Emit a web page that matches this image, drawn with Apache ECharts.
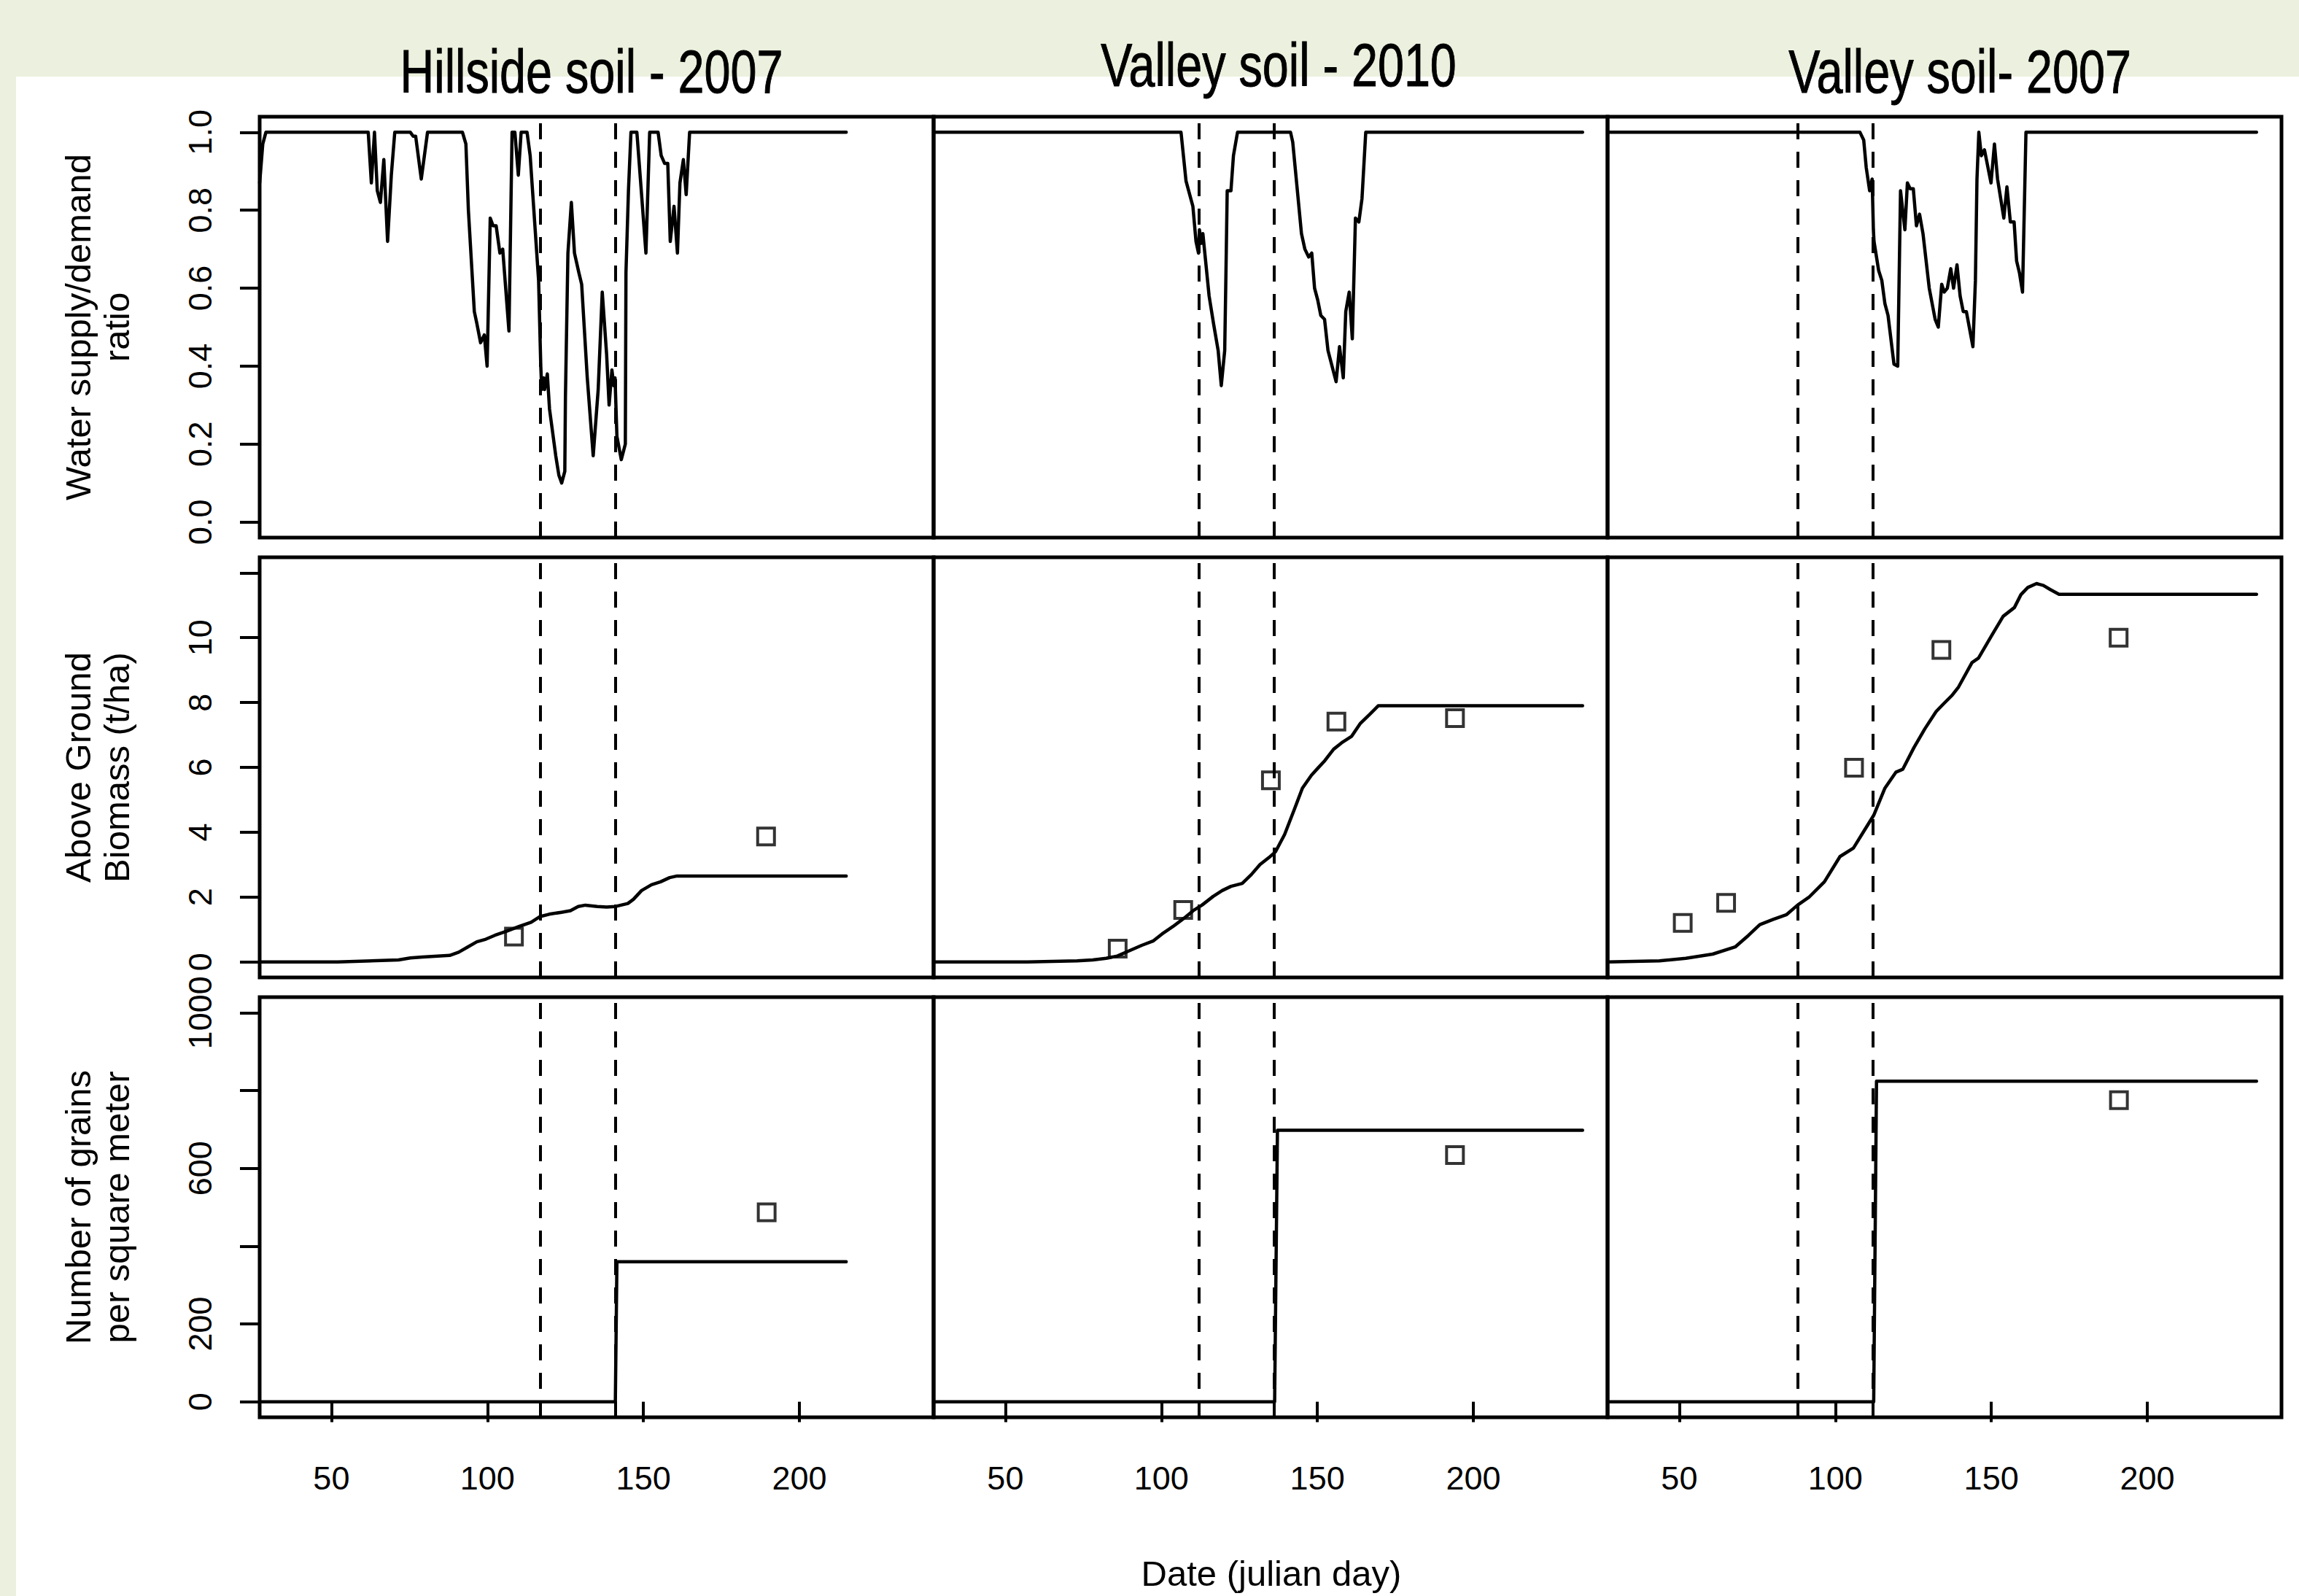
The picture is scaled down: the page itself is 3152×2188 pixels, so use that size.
<!DOCTYPE html>
<html>
<head>
<meta charset="utf-8">
<script src="https://cdn.jsdelivr.net/npm/echarts@6.0.0/dist/echarts.min.js"></script>
<style>
  html, body { margin: 0; padding: 0; background: #EBF1DE; }
  #white { position: absolute; left: 22px; top: 105px; width: 3130px; height: 2083px; background: #ffffff; }
  #c { position: absolute; left: 0; top: 0; width: 3152px; height: 2188px; }
</style>
</head>
<body>
<div id="white"></div>
<div id="c"></div>
<script>
// ---------------- data ----------------
const panelTitles = ['Hillside soil - 2007', 'Valley soil - 2010', 'Valley soil- 2007'];
const rowTitles = ['Water supply/demand\nratio', 'Above Ground\nBiomass (t/ha)', 'Number of grains\nper square meter'];
const xTitle = 'Date (julian day)';

const xTicks = [50, 100, 150, 200];
const waterTicks = [0, 0.2, 0.4, 0.6, 0.8, 1.0];
const biomassTicks = [0, 2, 4, 6, 8, 10, 12];
const biomassLabels = [0, 2, 4, 6, 8, 10];
const grainTicks = [0, 200, 400, 600, 800, 1000];
const grainLabels = [0, 200, 600, 1000];

// vertical dashed lines (julian day)
const hill07Dashes = [117, 141];
const v2010Dashes = [112, 136];
const v2007Dashes = [88, 112];

// water supply / demand ratio
const hill07Water = [[27,0.87],[28,0.97],[29,1],[61.8,1],[62.8,0.87],[63.8,1],[64.7,0.85],[65.7,0.82],[66.8,0.93],[68,0.72],[69.2,0.89],[70.3,1],[75.3,1],[76.2,0.99],[77,0.99],[78.8,0.88],[80.8,1],
  [92,1],[93.1,0.97],[93.9,0.80],[95.8,0.54],[96.6,0.51],[97.8,0.46],[99,0.48],[99.9,0.40],[100.9,0.78],[101.8,0.76],[102.8,0.76],[104,0.69],[104.9,0.70],[106.9,0.49],[107.9,1],[108.8,1],[109.9,0.89],[110.8,1],[112.7,1],[113.7,0.94],[116.4,0.62],[117.1,0.40],[117.4,0.34],[118,0.37],[118.3,0.34],[119.2,0.38],[119.9,0.29],[121.9,0.17],[122.9,0.12],[123.8,0.10],[124.8,0.13],[125,0.32],[125.8,0.69],[126.9,0.82],[127.9,0.69],[129.3,0.64],[130.2,0.61],[132,0.37],[133.9,0.17],[135.5,0.34],[136.8,0.59],[138.2,0.43],[139,0.30],[139.9,0.39],[140.5,0.35],[140.9,0.37],[141.5,0.22],[142.9,0.16],[144.2,0.20],[144.4,0.64],[145.2,0.85],[146,1],[147.9,1],[149.5,0.83],[150.8,0.69],[152,1],[154.7,1],[155.7,0.94],[156.8,0.92],[157.8,0.92],[158.6,0.72],[159.8,0.81],[160.9,0.69],[161.7,0.87],[162.8,0.93],[163.7,0.84],[164.8,1],[215,1]];
const v2010Water = [[27,1],[106.3,1],[107.9,0.875],[110.1,0.81],[111.1,0.72],[111.9,0.69],[112.2,0.75],[112.8,0.715],[113.3,0.74],[115.3,0.58],[116.7,0.51],[118.2,0.44],[119.2,0.35],[120.3,0.44],[120.7,0.64],[121.1,0.85],[122.3,0.85],[123.1,0.94],[124.4,1],[141.4,1],[142.1,0.975],[144.9,0.74],[146,0.70],[147.2,0.68],[148.2,0.69],[149.1,0.60],[150.1,0.57],[151.1,0.53],[152.3,0.52],[153.4,0.44],[156,0.36],[157.1,0.45],[158.3,0.37],[159.1,0.54],[160.2,0.59],[161.2,0.47],[162.2,0.78],[163.3,0.77],[164.3,0.83],[165.5,1],[235,1]];
const v2007Water = [[27,1],[107.9,1],[109.1,0.98],[109.9,0.91],[111,0.85],[111.8,0.88],[112.2,0.75],[112.4,0.72],[113.9,0.645],[114.9,0.62],[115.9,0.56],[116.9,0.53],[118.8,0.405],[120,0.40],[120.9,0.85],[122.3,0.75],[123.1,0.87],[124,0.855],[125,0.855],[126,0.76],[127,0.79],[128.1,0.74],[130.1,0.60],[132,0.52],[133,0.50],[134.1,0.61],[134.9,0.59],[135.9,0.60],[137,0.65],[137.9,0.60],[139,0.66],[140,0.58],[141,0.54],[142,0.54],[144.1,0.45],[144.9,0.62],[145.4,0.88],[146,1],[146.8,0.94],[147.8,0.955],[149.9,0.87],[151,0.97],[152,0.88],[154,0.78],[155,0.86],[156.1,0.77],[157.3,0.77],[158.1,0.67],[159,0.64],[160,0.59],[161.1,1],[235,1]];

// above ground biomass (t/ha): simulated line + observed squares
const hill07Biomass = [[27,0],[52,0],[71.5,0.06],[75.3,0.12],[79.2,0.15],[87.9,0.2],[90.8,0.3],[93.7,0.46],[96.6,0.62],[99.5,0.7],[102.4,0.82],[106.3,0.95],[110.1,1.09],[114,1.22],[116.9,1.4],[119.8,1.47],[123.7,1.53],[126.6,1.58],[129.1,1.71],[131.4,1.75],[135.2,1.71],[138.2,1.69],[141.1,1.71],[145,1.8],[146.8,1.93],[149.4,2.2],[152.6,2.38],[155.5,2.47],[158.4,2.6],[160.8,2.65],[215,2.65]];
const hill07BiomassObs = [[108.5,0.78],[189.3,3.87]];
const v2010Biomass = [[27,0],[57,0],[73,0.03],[78,0.06],[82.3,0.11],[85.9,0.18],[89.4,0.33],[93.7,0.51],[97.3,0.64],[100.2,0.86],[103.7,1.09],[107.3,1.35],[110.2,1.58],[113,1.75],[116.6,2.02],[119.5,2.2],[122.3,2.33],[125.9,2.42],[128.8,2.69],[131.6,3.0],[134.5,3.22],[136.6,3.4],[139.5,3.93],[142.4,4.65],[145.2,5.36],[148.1,5.76],[150.2,5.98],[152.4,6.21],[155.2,6.56],[158.1,6.78],[161,6.96],[163.8,7.36],[166.7,7.63],[169.5,7.9],[235,7.9]];
const v2010BiomassObs = [[86,0.41],[107,1.6],[135.1,5.6],[156.1,7.41],[194.1,7.52]];
const v2007Biomass = [[27,0],[43.6,0.03],[52.1,0.11],[60.7,0.24],[67.9,0.46],[72.2,0.82],[75.8,1.15],[80.1,1.31],[84.4,1.46],[87.9,1.75],[91.5,1.99],[96.5,2.47],[101.5,3.25],[105.8,3.51],[109.4,4.07],[112.3,4.52],[115.9,5.36],[119.4,5.85],[121.6,5.94],[125.2,6.61],[128.7,7.19],[132.3,7.72],[134.5,7.94],[137.3,8.21],[139.5,8.48],[143.8,9.23],[145.9,9.37],[150.2,10.08],[153.8,10.66],[157.4,10.93],[159.5,11.33],[161.7,11.55],[164.5,11.67],[166.7,11.61],[168.8,11.49],[171.7,11.34],[235,11.34]];
const v2007BiomassObs = [[51.1,1.2],[65,1.82],[106,5.99],[134,9.62],[190.8,10.0]];

// number of grains per square meter
const hill07Grains = [[27,0],[141,0],[141.5,360],[215,360]];
const hill07GrainsObs = [[189.5,487]];
const v2010Grains = [[27,0],[136.3,0],[137.2,698],[235,698]];
const v2010GrainsObs = [[194.1,634]];
const v2007Grains = [[27,0],[112.3,0],[113.2,824],[235,824]];
const v2007GrainsObs = [[190.9,775]];

// ---------------- layout ----------------
const colLeft = [356, 1280, 2204];
const colWidth = 924;
const rowTop = [160, 764, 1367];
const rowHeight = [577, 576, 576];
const yMin = [-0.04, -0.48, -40];
const yMax = [1.04, 12.48, 1040];
const yTicks = [waterTicks, biomassTicks, grainTicks];
const yLabels = [waterTicks, biomassLabels, grainLabels];
const yFmt = [v => v.toFixed(1), v => String(v), v => String(v)];
const titleCenterX = [811, 1753, 2687];
const titleCenterY = [98, 89, 98];

const lines = [
  [hill07Water, v2010Water, v2007Water],
  [hill07Biomass, v2010Biomass, v2007Biomass],
  [hill07Grains, v2010Grains, v2007Grains]
];
const obs = [
  [null, null, null],
  [hill07BiomassObs, v2010BiomassObs, v2007BiomassObs],
  [hill07GrainsObs, v2010GrainsObs, v2007GrainsObs]
];
const dashes = [hill07Dashes, v2010Dashes, v2007Dashes];

const sansFont = "'Liberation Sans', Arial, Helvetica, sans-serif";

const grids = [], xAxes = [], yAxes = [], series = [];
for (let r = 0; r < 3; r++) {
  for (let c = 0; c < 3; c++) {
    const i = r * 3 + c;
    grids.push({
      left: colLeft[c], top: rowTop[r], width: colWidth, height: rowHeight[r],
      show: true, borderColor: '#000', borderWidth: 5, backgroundColor: 'transparent',
      containLabel: false, outerBoundsMode: 'none'
    });
    xAxes.push({
      gridIndex: i, type: 'value', min: 27, max: 243,
      axisLine: { show: false }, splitLine: { show: false },
      axisTick: { show: r === 2, customValues: xTicks, length: 28, lineStyle: { color: '#000', width: 4 } },
      axisLabel: { show: r === 2, customValues: xTicks, margin: 61, fontSize: 45, color: '#000', fontFamily: sansFont }
    });
    yAxes.push({
      gridIndex: i, type: 'value', min: yMin[r], max: yMax[r],
      axisLine: { show: false }, splitLine: { show: false },
      axisTick: { show: c === 0, customValues: yTicks[r], length: 27, lineStyle: { color: '#000', width: 4 } },
      axisLabel: { show: c === 0, customValues: yLabels[r], rotate: 90, margin: 59, fontSize: 45, color: '#000', fontFamily: sansFont, formatter: yFmt[r] }
    });
    series.push({
      type: 'line', xAxisIndex: i, yAxisIndex: i, data: lines[r][c],
      showSymbol: false, symbol: 'none', silent: true, animation: false, clip: true,
      lineStyle: { color: '#000', width: 4.5, cap: 'round', join: 'round' },
      markLine: {
        silent: true, animation: false, symbol: ['none', 'none'],
        label: { show: false }, emphasis: { disabled: true },
        lineStyle: { color: '#000', width: 4, type: [22, 17] },
        data: dashes[c].map(d => ({ xAxis: d }))
      }
    });
    if (obs[r][c]) {
      series.push({
        type: 'scatter', xAxisIndex: i, yAxisIndex: i, data: obs[r][c],
        symbol: 'rect', symbolSize: 23, silent: true, animation: false,
        itemStyle: { color: 'rgba(0,0,0,0)', borderColor: '#000', borderWidth: 4 }
      });
    }
  }
}

const graphics = [];
// panel titles (condensed look via horizontal scaling)
panelTitles.forEach((t, c) => {
  graphics.push({
    type: 'text', x: titleCenterX[c], y: titleCenterY[c], scaleX: 0.77, scaleY: 1, silent: true,
    style: {
      text: t, fill: '#000', stroke: '#000', lineWidth: 1,
      font: "84px " + sansFont, fontSize: 84, fontFamily: sansFont,
      align: 'center', verticalAlign: 'middle', textAlign: 'center', textVerticalAlign: 'middle'
    }
  });
});
// row (y axis) titles
rowTitles.forEach((t, r) => {
  graphics.push({
    type: 'text', x: 133, y: rowTop[r] + rowHeight[r] / 2, rotation: Math.PI / 2, silent: true,
    style: {
      text: t, fill: '#000', font: "49px " + sansFont, fontSize: 49, fontFamily: sansFont,
      align: 'center', verticalAlign: 'middle', textAlign: 'center', textVerticalAlign: 'middle', lineHeight: 53
    }
  });
});
// x axis title
graphics.push({
  type: 'text', x: 1743, y: 2157, silent: true,
  style: {
    text: xTitle, fill: '#000', font: "49px " + sansFont, fontSize: 49, fontFamily: sansFont,
    align: 'center', verticalAlign: 'middle', textAlign: 'center', textVerticalAlign: 'middle'
  }
});

const chart = echarts.init(document.getElementById('c'), null, { renderer: 'svg', width: 3152, height: 2188 });
chart.setOption({
  backgroundColor: 'transparent',
  animation: false,
  grid: grids,
  xAxis: xAxes,
  yAxis: yAxes,
  series: series,
  graphic: graphics
});
</script>
</body>
</html>
